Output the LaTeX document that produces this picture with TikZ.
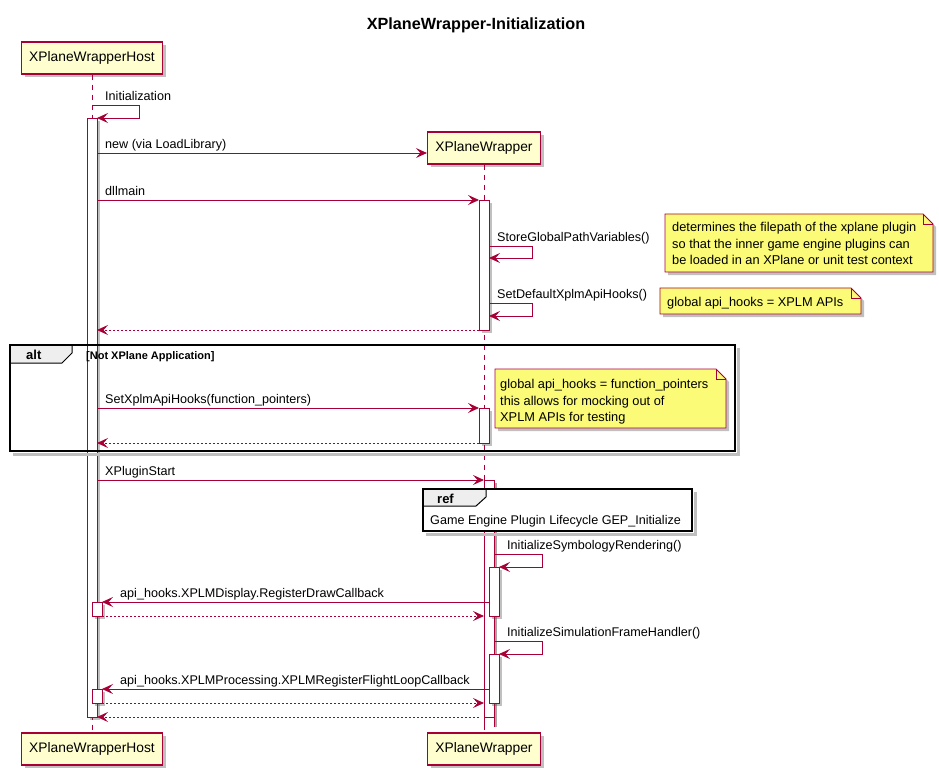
\documentclass[tikz,border=0pt]{standalone}
\usepackage{fontspec}
\setmainfont{Liberation Sans}
\usetikzlibrary{arrows.meta,shadows}
\definecolor{pu}{HTML}{A80036}
\definecolor{partfill}{HTML}{FEFECE}
\definecolor{notefill}{HTML}{FBFB77}
\definecolor{tabfill}{HTML}{EEEEEE}
\begin{document}
\begin{tikzpicture}[x=1pt,y=-1pt,
 shadowed/.style={drop shadow={shadow xshift=3pt,shadow yshift=-3pt,opacity=0.35,fill=black!70}},
 participant/.style={draw=pu,line width=1.2pt,fill=partfill,minimum height=32pt,inner sep=0pt,font=\fontsize{13.8}{16}\selectfont,shadowed},
 lifeline/.style={draw=pu,dash pattern=on 5pt off 5pt,line width=0.8pt},
 actbar/.style={draw=pu,fill=white,line width=0.8pt,shadowed},
 msg/.style={draw=pu,line width=0.9pt,-{Stealth[length=11pt,width=10pt,inset=4.5pt]}},
 ret/.style={msg,dash pattern=on 2pt off 2pt},
 lbl/.style={anchor=base west,inner sep=0pt,font=\fontsize{12.6}{15}\selectfont},
 notetxt/.style={anchor=base west,inner sep=0pt,font=\fontsize{12.8}{15}\selectfont},
 notebox/.style={draw=pu,fill=notefill,line width=0.8pt,shadowed},
 frame/.style={draw=black,line width=1.5pt},
 frameshadow/.style={draw=black!25,line width=2.5pt},
 tab/.style={draw=black,fill=tabfill,line width=1pt},
 tablbl/.style={anchor=base west,inner sep=0pt,font=\bfseries\fontsize{13}{15}\selectfont},
]
\useasboundingbox (0,0) rectangle (939,779);
\fill[white] (0,0) rectangle (939,779);

% title
\node[font=\bfseries\fontsize{16.2}{19}\selectfont] (title) at (476,25) {XPlaneWrapper-Initialization};

% participants
\node[participant, minimum width=141pt] (hTop) at (92,58) {XPlaneWrapperHost};
\node[participant, minimum width=113pt] (wTop) at (484,148) {XPlaneWrapper};
\node[participant, minimum width=141pt] (hBot) at (92,749) {XPlaneWrapperHost};
\node[participant, minimum width=113pt] (wBot) at (484,749) {XPlaneWrapper};

% lifelines
\draw[lifeline] (hTop.south) -- (hBot.north);
\draw[lifeline] (wTop.south) -- (wBot.north);

% activation bars
\draw[actbar] (87,118) rectangle (97,717);
\draw[actbar] (479,200) rectangle (489,330);
\draw[actbar] (479,408) rectangle (489,443);
\fill[black!35] (494,483) rectangle (497,727);
\fill[white] (484,480) rectangle (494,727);
\draw[pu,line width=0.8pt] (484,727) -- (484,480) -- (494,480) -- (494,727);
\draw[pu,line width=0.8pt] (484,717) -- (494,717);
\draw[actbar] (489,567) rectangle (499,616);
\draw[actbar] (489,654) rectangle (499,703);
\draw[actbar] (92,602) rectangle (102,616);
\draw[actbar] (92,689) rectangle (102,703);

% Initialization (self)
\coordinate (i0) at (92,105); \coordinate (i1) at (139,105);
\coordinate (i2) at (139,118); \coordinate (i3) at (97,118);
\draw[msg] (i0) -- (i1) -- (i2) -- (i3);
\node[lbl] (l0) at (105,100.5) {Initialization};

% new
\coordinate (m1s) at (97,153);
\draw[msg] (m1s) -- (m1s -| wTop.west);
\node[lbl] (l1) at (105,148.5) {new (via LoadLibrary)};

% dllmain
\coordinate (m2s) at (97,200); \coordinate (m2e) at (479,200);
\draw[msg] (m2s) -- (m2e);
\node[lbl] (l2) at (105,195.5) {dllmain};

% StoreGlobalPathVariables
\coordinate (s0) at (489,246); \coordinate (s1) at (532,246);
\coordinate (s2) at (532,258); \coordinate (s3) at (489,258);
\draw[msg] (s0) -- (s1) -- (s2) -- (s3);
\node[lbl] (l3) at (497,241.5) {StoreGlobalPathVariables()};

% SetDefaultXplmApiHooks
\coordinate (d0) at (489,303); \coordinate (d1) at (532,303);
\coordinate (d2) at (532,316); \coordinate (d3) at (489,316);
\draw[msg] (d0) -- (d1) -- (d2) -- (d3);
\node[lbl] (l4) at (497,298.5) {SetDefaultXplmApiHooks()};

% return
\coordinate (r1s) at (479,330); \coordinate (r1e) at (97,330);
\draw[ret] (r1s) -- (r1e);

% notes 1 & 2
\draw[notebox] (665,214) -- (923,214) -- (933,224) -- (933,272) -- (665,272) -- cycle;
\draw[pu,line width=0.8pt] (923,214) -- (923,224) -- (933,224);
\node[notetxt] (n1a) at (672,231.5) {determines the filepath of the xplane plugin};
\node[notetxt] (n1b) at (672,248) {so that the inner game engine plugins can};
\node[notetxt] (n1c) at (672,264.5) {be loaded in an XPlane or unit test context};

\draw[notebox] (660,288) -- (851,288) -- (861,298) -- (861,314) -- (660,314) -- cycle;
\draw[pu,line width=0.8pt] (851,288) -- (851,298) -- (861,298);
\node[notetxt] (n2a) at (667,306.5) {global api\_hooks = XPLM APIs};

% alt frame
\draw[frameshadow] (738.5,348) -- (738.5,454.5) -- (13,454.5);
\draw[tab] (10,345) -- (72,345) -- (72,353) -- (62,363) -- (10,363) -- cycle;
\draw[frame] (10,345) rectangle (735,451);
\node[tablbl] (altl) at (26,359.5) {alt};
\node[anchor=base west,inner sep=0pt,font=\bfseries\fontsize{11}{13}\selectfont] (cond) at (86,359) {[Not XPlane Application]};

% SetXplmApiHooks
\coordinate (m6s) at (97,408); \coordinate (m6e) at (479,408);
\draw[msg] (m6s) -- (m6e);
\node[lbl] (l6) at (105,403.5) {SetXplmApiHooks(function\_pointers)};
\coordinate (r2s) at (479,443); \coordinate (r2e) at (97,443);
\draw[ret] (r2s) -- (r2e);

% note 3
\draw[notebox] (495,369) -- (716,369) -- (726,379) -- (726,428) -- (495,428) -- cycle;
\draw[pu,line width=0.8pt] (716,369) -- (716,379) -- (726,379);
\node[notetxt] (n3a) at (500,388.5) {global api\_hooks = function\_pointers};
\node[notetxt] (n3b) at (500,405) {this allows for mocking out of};
\node[notetxt] (n3c) at (500,421.5) {XPLM APIs for testing};

% XPluginStart
\coordinate (m8s) at (97,480); \coordinate (m8e) at (484,480);
\draw[msg] (m8s) -- (m8e);
\node[lbl] (l8) at (105,475.5) {XPluginStart};

% ref frame
\draw[frameshadow] (695.5,492) -- (695.5,534.5) -- (426,534.5);
\fill[white] (423,489) rectangle (692,531);
\draw[tab] (423,489) -- (486,489) -- (486,497) -- (476,506) -- (423,506) -- cycle;
\draw[frame] (423,489) rectangle (692,531);
\node[tablbl] (refl) at (437,503) {ref};
\node[lbl] (refb) at (430,524.5) {Game Engine Plugin Lifecycle GEP\_Initialize};

% InitializeSymbologyRendering
\coordinate (y0) at (494,554); \coordinate (y1) at (542,554);
\coordinate (y2) at (542,567); \coordinate (y3) at (499,567);
\draw[msg] (y0) -- (y1) -- (y2) -- (y3);
\node[lbl] (l9) at (507,549.5) {InitializeSymbologyRendering()};

% RegisterDrawCallback
\coordinate (m10s) at (489,602); \coordinate (m10e) at (102,602);
\draw[msg] (m10s) -- (m10e);
\node[lbl] (l10) at (120,597.5) {api\_hooks.XPLMDisplay.RegisterDrawCallback};
\coordinate (r3s) at (102,616); \coordinate (r3e) at (484,616);
\draw[ret] (r3s) -- (r3e);

% InitializeSimulationFrameHandler
\coordinate (f0) at (494,641); \coordinate (f1) at (542,641);
\coordinate (f2) at (542,654); \coordinate (f3) at (499,654);
\draw[msg] (f0) -- (f1) -- (f2) -- (f3);
\node[lbl] (l12) at (507,636.5) {InitializeSimulationFrameHandler()};

% RegisterFlightLoopCallback
\coordinate (m13s) at (489,689); \coordinate (m13e) at (102,689);
\draw[msg] (m13s) -- (m13e);
\node[lbl] (l13) at (120,684.5) {api\_hooks.XPLMProcessing.XPLMRegisterFlightLoopCallback};
\coordinate (r4s) at (102,703); \coordinate (r4e) at (484,703);
\draw[ret] (r4s) -- (r4e);

% final return
\coordinate (r5s) at (479,717); \coordinate (r5e) at (97,717);
\draw[ret] (r5s) -- (r5e);
\end{tikzpicture}
\end{document}
